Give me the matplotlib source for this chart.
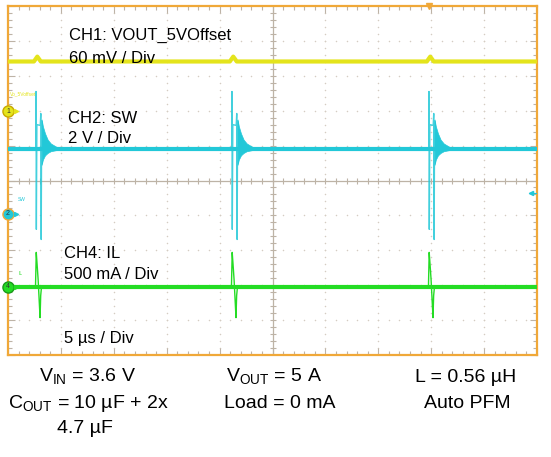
import numpy as np
import matplotlib
matplotlib.use('Agg')
import matplotlib.pyplot as plt

plt.rcParams['font.family'] = ['Liberation Sans', 'DejaVu Sans']
plt.rcParams['mathtext.fontset'] = 'custom'
plt.rcParams['mathtext.rm'] = 'Liberation Sans'

# scope screen: 10 div x 10 div, 5 us / div
T_SPAN = 50.0
# time of each switching burst (us)
pulse_times = [2.65, 21.17, 39.79]

# CH1 VOUT (div): baseline and small bump at each burst
vo_base = 3.41
vo_dt = [-0.20, 0.12, 0.45]
vo_lvl = [3.41, 3.55, 3.41]

# CH2 SW (div)
sw_base = 0.89
sw_dt = [-0.10, -0.02, 0.00, 0.03, 0.08, 0.40, 0.45, 0.49, 0.53, 0.60]
sw_lvl = [0.89, 0.89, 2.55, -1.40, 1.60, 1.58, 1.92, -1.69, 1.70, 0.89]
# ringing envelope after the burst
ring_dt = [0.53, 0.65, 0.85, 1.10, 1.40, 1.90, 2.60]
ring_hi = [1.75, 1.55, 1.35, 1.17, 1.06, 0.97, 0.90]
ring_lo = [0.45, 0.60, 0.72, 0.79, 0.84, 0.87, 0.88]

# CH4 IL (div)
il_base = -3.04
il_dt = [-0.05, 0.02, 0.10, 0.20, 0.30, 0.38, 0.44, 0.52]
il_lvl = [-3.04, -2.06, -2.40, -2.85, -3.45, -3.93, -3.30, -3.04]

YELLOW = '#e4e41c'
CYAN = '#22c8d8'
GREEN = '#24dc24'
ORANGE = '#f0a838'
GRID = '#bdb3a6'
DOTS = '#d4ccc2'


def build_trace(base, dts, lvls):
    t = [0.0]
    v = [base]
    for p in pulse_times:
        t += [p + d for d in dts]
        v += list(lvls)
    t.append(T_SPAN)
    v.append(base)
    return t, v


W, H = 551, 457
fig = plt.figure(figsize=(W / 100, H / 100), dpi=100)
fig.patch.set_facecolor('white')
ax = fig.add_axes([8 / W, 1 - 355 / H, 529 / W, 349 / H])
ax.set_xlim(0, T_SPAN)
ax.set_ylim(-5, 5)

# graticule
for s in ax.spines.values():
    s.set_color(ORANGE)
    s.set_linewidth(1.6)
ax.set_xticks(np.arange(0, 50.1, 5))
ax.set_xticks(np.arange(0, 50.1, 1), minor=True)
ax.set_yticks(np.arange(-5, 5.1, 1))
ax.set_yticks(np.arange(-5, 5.1, 0.2), minor=True)
ax.tick_params(which='both', direction='in', top=True, right=True,
               labelbottom=False, labelleft=False, color=GRID, width=0.8)
ax.tick_params(which='major', length=5)
ax.tick_params(which='minor', length=3)

minor_x = np.arange(1, 50, 1)
minor_y = np.arange(-4.8, 5, 0.2)
for k in range(1, 10):
    if k == 5:
        continue
    ax.scatter(np.full(len(minor_y), 5.0 * k), minor_y, s=1.2, color=DOTS,
               lw=0, zorder=1)
for k in range(-4, 5):
    if k == 0:
        continue
    ax.scatter(minor_x, np.full(len(minor_x), float(k)), s=1.2, color=DOTS,
               lw=0, zorder=1)
ax.axhline(0, color=GRID, lw=0.9, zorder=1)
ax.axvline(25, color=GRID, lw=0.9, zorder=1)
ax.plot(minor_x, np.zeros(len(minor_x)), ls='none', marker='|', ms=4,
        color=GRID, mew=0.8, zorder=1)
ax.plot(np.full(len(minor_y), 25.0), minor_y, ls='none', marker='_', ms=4,
        color=GRID, mew=0.8, zorder=1)

# CH1
t1, v1 = build_trace(vo_base, vo_dt, vo_lvl)
ax.plot(t1, v1, color=YELLOW, lw=3, zorder=3)

# CH2
ax.axhline(sw_base, color=CYAN, lw=3, zorder=3)
for p in pulse_times:
    ax.fill_between([p + d for d in ring_dt], ring_lo, ring_hi, color=CYAN,
                    lw=0.5, zorder=3)
t2, v2 = build_trace(sw_base, sw_dt, sw_lvl)
ax.plot(t2, v2, color=CYAN, lw=1.0, alpha=0.85, zorder=3)

# CH4
ax.axhline(il_base, color=GREEN, lw=3, zorder=3)
t4, v4 = build_trace(il_base, il_dt, il_lvl)
ax.plot(t4, v4, color=GREEN, lw=1.0, zorder=3)

# channel markers
markers = [('1', 1.98, YELLOW, '#c8a800'), ('2', -0.95, CYAN, ORANGE),
           ('4', il_base, GREEN, '#1a9a1a')]
for lab, y, fc, ec in markers:
    ax.plot([0], [y], marker='o', ms=8, mfc=fc, mec=ec, mew=1.0,
            clip_on=False, zorder=6)
    ax.text(0, y, lab, fontsize=5, ha='center', va='center', zorder=7,
            clip_on=False, color='#333333')
    ax.plot([0.75], [y], marker='>', ms=3, color=fc, clip_on=False, zorder=6)
ax.text(0.2, 2.45, 'Vo_5Voffset', fontsize=3.5, color=YELLOW, zorder=6)
ax.text(0.95, -0.6, 'SW', fontsize=3.5, color=CYAN, zorder=6)
ax.text(0.95, -2.7, 'IL', fontsize=3.5, color=GREEN, zorder=6)
ax.plot([49.4], [-0.35], marker='<', ms=3, color=CYAN, clip_on=False, zorder=6)
ax.plot([49.2, 49.9], [-0.35, -0.35], color=CYAN, lw=0.8, zorder=6)
ax.plot([39.75], [5.0], marker='v', ms=5, color=ORANGE, clip_on=False,
        zorder=6)


def ptext(x, y, s, size, ha='left'):
    fig.text(x / W, 1 - y / H, s, fontsize=size, ha=ha, va='baseline',
             color='black', zorder=10)


ptext(69, 40, 'CH1: VOUT_5VOffset', 12)
ptext(69, 63, '60 mV / Div', 12)
ptext(68, 123, 'CH2: SW', 12)
ptext(68, 143, '2 V / Div', 12)
ptext(64, 258, 'CH4: IL', 12)
ptext(64, 279, '500 mA / Div', 12)
ptext(64, 343, '5 µs / Div', 12)

ptext(88, 382, r'V$_\mathregular{IN}$ = 3.6 V', 14, 'center')
ptext(88, 408, r'C$_\mathregular{OUT}$ = 10 µF + 2x', 14, 'center')
ptext(85, 433, '4.7 µF', 14, 'center')
ptext(274, 382, r'V$_\mathregular{OUT}$ = 5 A', 14, 'center')
ptext(280, 408, 'Load = 0 mA', 14, 'center')
ptext(466, 382, 'L = 0.56 µH', 14, 'center')
ptext(467, 408, 'Auto PFM', 14, 'center')

fig.savefig('out.png', dpi=100)
